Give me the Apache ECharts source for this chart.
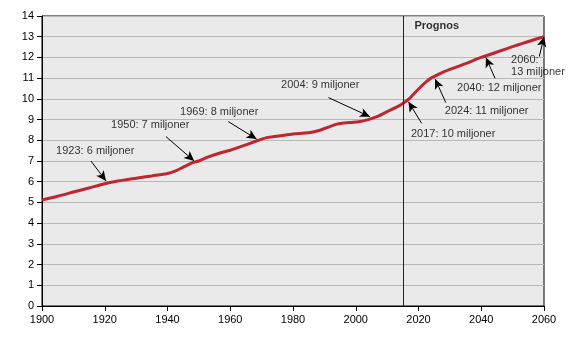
<!DOCTYPE html>
<html>
<head>
<meta charset="utf-8">
<style>
  html, body { margin: 0; padding: 0; background: #fff; }
  #chart { width: 568px; height: 340px; }
</style>
<script src="https://cdn.jsdelivr.net/npm/echarts@6/dist/echarts.min.js"></script>
</head>
<body>
<div id="chart"></div>
<script>
// Sveriges folkmängd (miljoner), utfall och prognos
const years = [1900, 1905, 1910, 1915, 1920, 1923, 1930, 1935, 1940, 1943, 1945, 1948, 1950,
  1953, 1957, 1960, 1965, 1969, 1972, 1976, 1980, 1985, 1988, 1991, 1994, 1998, 2001, 2004,
  2007, 2010, 2013, 2015, 2017, 2019, 2021, 2022.5, 2024, 2026, 2028, 2030, 2035, 2040,
  2045, 2050, 2055, 2060];
const population = [5.12, 5.30, 5.50, 5.70, 5.90, 6.00, 6.17, 6.28, 6.40, 6.55, 6.70, 6.92, 7.00,
  7.20, 7.40, 7.52, 7.78, 8.00, 8.14, 8.22, 8.30, 8.36, 8.46, 8.62, 8.78, 8.86, 8.90, 9.00,
  9.15, 9.38, 9.60, 9.78, 10.00, 10.32, 10.62, 10.83, 11.00, 11.16, 11.30, 11.42, 11.70, 12.00,
  12.26, 12.52, 12.77, 13.00];

const xTicks = [1900, 1920, 1940, 1960, 1980, 2000, 2020, 2040, 2060];
const yTicks = [0, 1, 2, 3, 4, 5, 6, 7, 8, 9, 10, 11, 12, 13, 14];

const prognosStart = 2015;
const prognosLabel = 'Prognos';
const prognosAnchor = [2018.7, 13.52];

// Milstolpar: text, textens ankare och pilens start/slut i datakoordinater
const milestoneTexts = ['1923: 6 miljoner', '1950: 7 miljoner', '1969: 8 miljoner', '2004: 9 miljoner',
  '2017: 10 miljoner', '2024: 11 miljoner', '2040: 12 miljoner', '2060:\n13 miljoner'];
const textAnchors = [[1904.5, 7.48], [1922.0, 8.74], [1944.0, 9.38], [1976.2, 10.67],
  [2017.6, 8.29], [2028.4, 9.42], [2032.3, 10.51], [2049.5, 11.59]];
const arrowFrom = [[1915.6, 7.00], [1939.5, 8.18], [1959.4, 8.90], [1991.3, 10.06],
  [2021.0, 8.82], [2028.7, 9.82], [2044.4, 10.99], [2058.5, 12.04]];
const arrowTo = [[1920.4, 6.04], [1948.5, 7.00], [1968.4, 8.06], [2004.5, 9.14],
  [2016.8, 9.86], [2025.3, 10.96], [2041.5, 12.00], [2060.0, 13.00]];

const FONT = '"Liberation Sans", Arial, sans-serif';

const chart = echarts.init(document.getElementById('chart'), null, { renderer: 'canvas' });

chart.setOption({
  animation: false,
  grid: {
    left: 42, top: 16, right: 24, bottom: 34,
    show: true, backgroundColor: '#EAEAEA', borderColor: '#000', borderWidth: 1
  },
  xAxis: {
    type: 'value', min: 1900, max: 2060, interval: 20,
    axisLine: { show: true, lineStyle: { color: '#000', width: 1 } },
    axisTick: { show: true, length: 5, lineStyle: { color: '#000' } },
    axisLabel: {
      color: '#000', fontFamily: FONT, fontSize: 11, margin: 8,
      formatter: v => xTicks.includes(v) ? String(v) : ''
    },
    splitLine: { show: false }
  },
  yAxis: {
    type: 'value', min: 0, max: 14, interval: 1,
    axisLine: { show: true, lineStyle: { color: '#000', width: 1 } },
    axisTick: { show: true, length: 5, lineStyle: { color: '#000' } },
    axisLabel: {
      color: '#000', fontFamily: FONT, fontSize: 11, margin: 8,
      formatter: v => yTicks.includes(v) ? String(v) : ''
    },
    splitLine: { show: true, lineStyle: { color: '#B8B8B8', width: 1 } }
  },
  series: [
    {
      name: 'arrows',
      type: 'line',
      data: [],
      markLine: {
        silent: true,
        symbol: ['none', 'arrow'],
        symbolSize: [7, 10],
        label: { show: false },
        lineStyle: { color: '#000', width: 1, type: 'solid' },
        data: arrowFrom.map((p, i) => [{ coord: p }, { coord: arrowTo[i] }])
      }
    },
    {
      name: 'prognos',
      type: 'line',
      data: [],
      markLine: {
        silent: true,
        symbol: ['none', 'none'],
        label: { show: false },
        lineStyle: { color: '#222', width: 1, type: 'solid' },
        data: [{ xAxis: prognosStart }]
      }
    },
    {
      name: 'Folkmängd',
      type: 'line',
      data: years.map((y, i) => [y, population[i]]),
      showSymbol: false,
      smooth: 0.3,
      lineStyle: { color: '#BF2630', width: 3 },
      z: 3
    },
    {
      name: 'milestones',
      type: 'scatter',
      symbolSize: 0,
      silent: true,
      data: textAnchors.map((p, i) => ({ value: p, name: milestoneTexts[i] })),
      label: {
        show: true, position: 'right', distance: 0,
        formatter: p => p.name,
        color: '#000', fontFamily: FONT, fontSize: 11, lineHeight: 12,
        align: 'left', verticalAlign: 'middle'
      },
      z: 4
    },
    {
      name: 'prognosLabel',
      type: 'scatter',
      symbolSize: 0,
      silent: true,
      data: [{ value: prognosAnchor, name: prognosLabel }],
      label: {
        show: true, position: 'right', distance: 0,
        formatter: p => p.name,
        color: '#000', fontFamily: FONT, fontSize: 11, fontWeight: 'bold',
        align: 'left', verticalAlign: 'middle'
      },
      z: 4
    }
  ]
});
</script>
</body>
</html>
